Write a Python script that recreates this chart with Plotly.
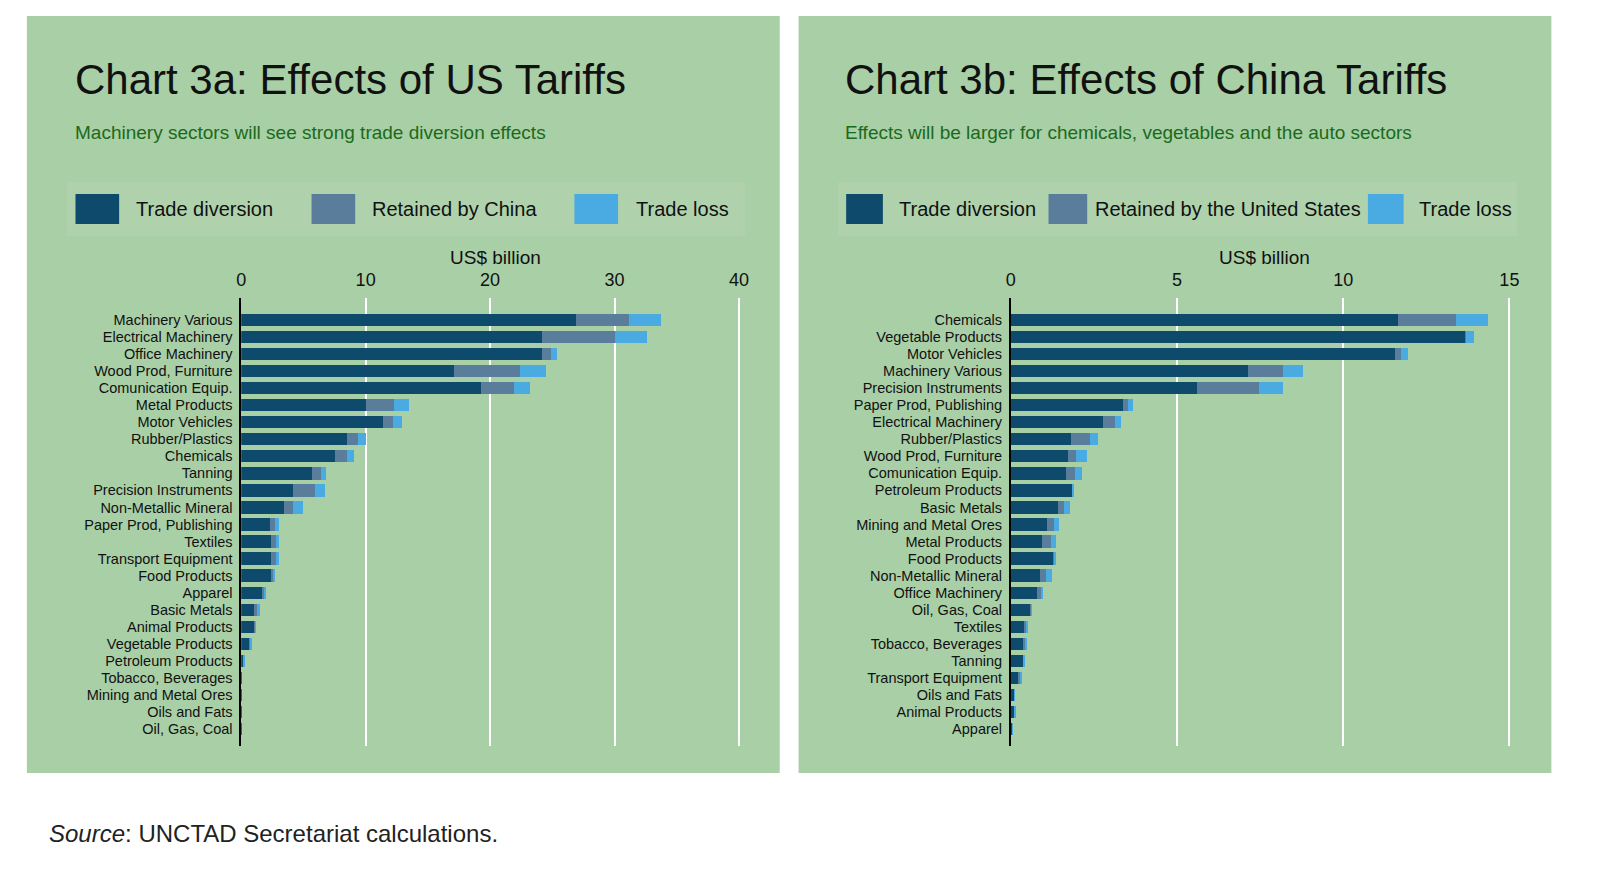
import plotly.graph_objects as go

us_cats = ["Machinery Various","Electrical Machinery","Office Machinery","Wood Prod, Furniture","Comunication Equip.",
 "Metal Products","Motor Vehicles","Rubber/Plastics","Chemicals","Tanning","Precision Instruments","Non-Metallic Mineral",
 "Paper Prod, Publishing","Textiles","Transport Equipment","Food Products","Apparel","Basic Metals","Animal Products",
 "Vegetable Products","Petroleum Products","Tobacco, Beverages","Mining and Metal Ores","Oils and Fats","Oil, Gas, Coal"]
us_div = [26.9,24.2,24.2,17.1,19.3,10.0,11.4,8.5,7.5,5.7,4.2,3.4,2.3,2.4,2.4,2.4,1.7,1.0,1.1,0.7,0.2,0.05,0.03,0.02,0.01]
us_ret = [4.3,5.85,0.7,5.3,2.6,2.3,0.8,0.9,1.0,0.7,1.7,0.8,0.4,0.4,0.4,0.2,0.2,0.3,0.05,0.1,0.0,0.0,0.0,0.0,0.0]
us_loss = [2.5,2.55,0.5,2.1,1.3,1.2,0.7,0.6,0.6,0.4,0.8,0.8,0.3,0.2,0.2,0.1,0.1,0.2,0.05,0.1,0.05,0.0,0.0,0.0,0.0]

cn_cats = ["Chemicals","Vegetable Products","Motor Vehicles","Machinery Various","Precision Instruments",
 "Paper Prod, Publishing","Electrical Machinery","Rubber/Plastics","Wood Prod, Furniture","Comunication Equip.",
 "Petroleum Products","Basic Metals","Mining and Metal Ores","Metal Products","Food Products","Non-Metallic Mineral",
 "Office Machinery","Oil, Gas, Coal","Textiles","Tobacco, Beverages","Tanning","Transport Equipment","Oils and Fats",
 "Animal Products","Apparel"]
cn_div = [11.64,13.66,11.56,7.14,5.6,3.37,2.77,1.8,1.72,1.67,1.86,1.43,1.1,0.95,1.28,0.87,0.78,0.6,0.42,0.39,0.38,0.22,0.1,0.1,0.03]
cn_ret = [1.76,0.04,0.17,1.06,1.88,0.15,0.37,0.57,0.23,0.27,0.0,0.16,0.2,0.25,0.03,0.2,0.12,0.01,0.05,0.04,0.01,0.08,0.01,0.01,0.01]
cn_loss = [0.96,0.25,0.21,0.6,0.72,0.17,0.17,0.25,0.33,0.21,0.02,0.18,0.15,0.17,0.06,0.18,0.08,0.01,0.03,0.04,0.01,0.03,0.01,0.02,0.01]

C1, C2, C3 = "#0e4a6b", "#5b7d9c", "#4aaae2"
BG = "#a9cfa6"
FONT = "Liberation Sans, Arial, sans-serif"

fig = go.Figure()
for cats, vals, ax in [(us_cats, [us_div, us_ret, us_loss], ""), (cn_cats, [cn_div, cn_ret, cn_loss], "2")]:
    for v, c in zip(vals, [C1, C2, C3]):
        fig.add_trace(go.Bar(y=cats, x=v, orientation="h", marker=dict(color=c, line=dict(width=0)),
                             xaxis="x" + ax, yaxis="y" + ax, showlegend=False))

axcommon = dict(side="top", showgrid=True, gridcolor="white", gridwidth=2, zeroline=False,
                tickfont=dict(size=18, color="#111", family=FONT), ticks="outside", ticklen=4,
                tickcolor="rgba(0,0,0,0)", showline=False)
ycommon = dict(showline=True, linecolor="black", linewidth=1.5, ticks="",
               tickfont=dict(size=14.5, color="#111", family=FONT), showgrid=False, ticklabelstandoff=4)
fig.update_layout(
    width=1600, height=887, margin=dict(l=0, r=0, t=0, b=0),
    paper_bgcolor="white", plot_bgcolor="rgba(0,0,0,0)", barmode="stack", bargap=0.28,
    font=dict(family=FONT),
    xaxis=dict(domain=[0.1438, 0.459], range=[0, 40.2], tickvals=[0, 10, 20, 30, 40], anchor="y", **axcommon),
    yaxis=dict(domain=[0.168, 0.673], anchor="x", range=[25.0, -1.29], tickvals=us_cats, **ycommon),
    xaxis2=dict(domain=[0.6287, 0.945], range=[0, 15.1], tickvals=[0, 5, 10, 15], anchor="y2", **axcommon),
    yaxis2=dict(domain=[0.168, 0.673], anchor="x2", range=[25.0, -1.29], tickvals=cn_cats, **ycommon),
)

shapes, ann = [], []
def H(y): return 1 - y / 887
def X(x): return x / 1600
for x0, x1 in [(14, 773), (792, 1551)]:
    shapes.append(dict(type="rect", xref="paper", yref="paper", x0=X(x0), x1=X(x1), y0=H(765), y1=H(8),
                       fillcolor=BG, line=dict(width=0), layer="below"))
    shapes.append(dict(type="rect", xref="paper", yref="paper", x0=X(x0 + 40), x1=X(x1 - 35), y0=H(228), y1=H(174),
                       fillcolor="rgba(255,255,255,0.08)", line=dict(width=0), layer="below"))

panels = [
    (60, "Chart 3a: Effects of US Tariffs", "Machinery sectors will see strong trade diversion effects",
     [(63, 107, 122, "Trade diversion"), (301, 345, 360, "Retained by China"), (566, 610, 626, "Trade loss")], 486),
    (837, "Chart 3b: Effects of China Tariffs", "Effects will be larger for chemicals, vegetables and the auto sectors",
     [(840, 877, 891, "Trade diversion"), (1044, 1083, 1089, "Retained by the United States"), (1366, 1402, 1416, "Trade loss")], 1262),
]
for tx, title, sub, leg, unitx in panels:
    ann.append(dict(x=X(tx), y=H(72), xref="paper", yref="paper", xanchor="left", yanchor="middle", showarrow=False,
                    text=title, font=dict(size=42, color="#111", family=FONT)))
    ann.append(dict(x=X(tx), y=H(124), xref="paper", yref="paper", xanchor="left", yanchor="middle", showarrow=False,
                    text=sub, font=dict(size=19, color="#1b6a1b", family=FONT)))
    for (x0, x1, xt, label), col in zip(leg, [C1, C2, C3]):
        shapes.append(dict(type="rect", xref="paper", yref="paper", x0=X(x0), x1=X(x1), y0=H(216), y1=H(186),
                           fillcolor=col, line=dict(width=0)))
        ann.append(dict(x=X(xt), y=H(201), xref="paper", yref="paper", xanchor="left", yanchor="middle", showarrow=False,
                        text=label, font=dict(size=20, color="#111", family=FONT)))
    ann.append(dict(x=X(unitx), y=H(250), xref="paper", yref="paper", xanchor="center", yanchor="middle", showarrow=False,
                    text="US$ billion", font=dict(size=19, color="#111", family=FONT)))
ann.append(dict(x=X(34), y=H(825), xref="paper", yref="paper", xanchor="left", yanchor="middle", showarrow=False,
                text="<i>Source</i>: UNCTAD Secretariat calculations.", font=dict(size=24, color="#222", family=FONT)))
fig.update_layout(shapes=shapes, annotations=ann)
fig.write_html("out.html")
